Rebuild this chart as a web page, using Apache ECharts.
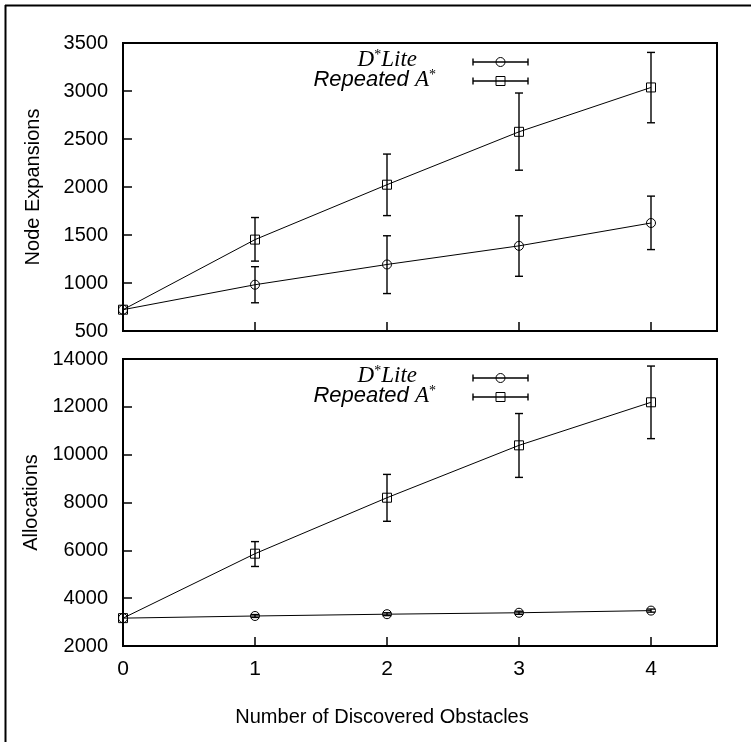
<!DOCTYPE html>
<html>
<head>
<meta charset="utf-8">
<script src="https://cdn.jsdelivr.net/npm/echarts@6/dist/echarts.min.js"></script>
<style>
  html, body { margin: 0; padding: 0; background: #fff; }
  #main { width: 751px; height: 742px; }
</style>
</head>
<body>
<div id="main"></div>
<script>
// x values (number of discovered obstacles)
var obstacles = [0, 1, 2, 3, 4];
var xTicks = [0, 1, 2, 3, 4];

// node expansions
var dliteNodes     = [722, 982, 1193, 1387, 1625];
var dliteNodesLow  = [722, 794, 890, 1070, 1348];
var dliteNodesHigh = [722, 1170, 1492, 1700, 1905];
var astarNodes     = [722, 1452, 2024, 2575, 3037];
var astarNodesLow  = [722, 1228, 1702, 2175, 2669];
var astarNodesHigh = [722, 1682, 2343, 2979, 3402];

// allocations
var dliteAlloc     = [3165, 3255, 3330, 3390, 3480];
var dliteAllocLow  = [3165, 3195, 3270, 3325, 3415];
var dliteAllocHigh = [3165, 3315, 3390, 3455, 3545];
var astarAlloc     = [3165, 5860, 8200, 10390, 12190];
var astarAllocLow  = [3165, 5325, 7215, 9050, 10670];
var astarAllocHigh = [3165, 6365, 9175, 11720, 13705];

var FONT = '"Liberation Sans", Arial, sans-serif';

function pts(vals) {
    var out = [];
    for (var i = 0; i < obstacles.length; i++) out.push([obstacles[i], vals[i]]);
    return out;
}
function errData(mid, lo, hi) {
    var out = [];
    for (var i = 0; i < obstacles.length; i++) out.push([obstacles[i], lo[i], hi[i], mid[i]]);
    return out;
}

function markerShape(kind, cx, cy) {
    if (kind == 'circle') {
        return { type: 'circle', shape: { cx: cx, cy: cy, r: 4.5 },
                 style: { fill: 'none', stroke: '#000', lineWidth: 1 } };
    }
    return { type: 'rect', shape: { x: cx - 4.5, y: cy - 4.5, width: 9, height: 9 },
             style: { fill: 'none', stroke: '#000', lineWidth: 1 } };
}

function errRender(kind) {
    return function (params, api) {
        var x = api.value(0), lo = api.value(1), hi = api.value(2), mid = api.value(3);
        var pLo = api.coord([x, lo]);
        var pHi = api.coord([x, hi]);
        var pM = api.coord([x, mid]);
        var st = { stroke: '#000', lineWidth: 1.4 };
        var children = [];
        if (hi > lo) {
            children.push({ type: 'line', shape: { x1: pLo[0], y1: pLo[1], x2: pHi[0], y2: pHi[1] }, style: st });
            children.push({ type: 'line', shape: { x1: pLo[0] - 4, y1: pLo[1], x2: pLo[0] + 4, y2: pLo[1] }, style: st });
            children.push({ type: 'line', shape: { x1: pHi[0] - 4, y1: pHi[1], x2: pHi[0] + 4, y2: pHi[1] }, style: st });
        }
        children.push(markerShape(kind, pM[0], pM[1]));
        return { type: 'group', children: children };
    };
}

function lineSeries(vals, idx) {
    return {
        type: 'line', xAxisIndex: idx, yAxisIndex: idx, data: pts(vals),
        showSymbol: false, lineStyle: { color: '#000', width: 1 }, z: 2
    };
}
function errSeries(mid, lo, hi, kind, idx) {
    return {
        type: 'custom', xAxisIndex: idx, yAxisIndex: idx,
        data: errData(mid, lo, hi), renderItem: errRender(kind),
        encode: { x: 0, y: [1, 2, 3] }, z: 3
    };
}

// legend sample (line with end caps and a marker)
function legendRow(x1, x2, y, kind) {
    var st = { stroke: '#000', lineWidth: 1.4 };
    var m = markerShape(kind, (x1 + x2) / 2, y);
    return [
        { type: 'line', shape: { x1: x1, y1: y, x2: x2, y2: y }, style: st },
        { type: 'line', shape: { x1: x1, y1: y - 3.5, x2: x1, y2: y + 3.5 }, style: st },
        { type: 'line', shape: { x1: x2, y1: y - 3.5, x2: x2, y2: y + 3.5 }, style: st },
        m
    ];
}
var richStyles = {
    m: { fontFamily: '"Liberation Serif", serif', fontStyle: 'italic', fontSize: 23, fill: '#000' },
    s: { fontFamily: '"Liberation Serif", serif', fontSize: 14, fill: '#000', padding: [0, 0, 9, 0] },
    r: { fontFamily: FONT, fontStyle: 'italic', fontSize: 22, fill: '#000' }
};
function legendBlock(dy) {
    var els = [];
    els.push({ type: 'text', x: 417, y: 60 + dy,
        style: { text: '{m|D}{s|*}{m|Lite}', rich: richStyles, align: 'right', verticalAlign: 'middle' } });
    els.push({ type: 'text', x: 436, y: 80 + dy,
        style: { text: '{r|Repeated }{m|A}{s|*}', rich: richStyles, align: 'right', verticalAlign: 'middle' } });
    els = els.concat(legendRow(473, 528, 62 + dy, 'circle'));
    els = els.concat(legendRow(473, 528, 81 + dy, 'rect'));
    return els;
}

var myChart = echarts.init(document.getElementById('main'), null, { renderer: 'canvas' });

var axisCommon = {
    axisLine: { show: false },
    axisTick: { show: true, inside: true, length: 9, lineStyle: { color: '#000', width: 1.5 } },
    splitLine: { show: false }
};
function plainNum(v) { return String(v); }

var option = {
    animation: false,
    backgroundColor: '#fff',
    grid: [
        { left: 123, top: 43, width: 594, height: 288, show: true, borderColor: '#000', borderWidth: 2 },
        { left: 123, top: 359, width: 594, height: 287, show: true, borderColor: '#000', borderWidth: 2 }
    ],
    xAxis: [
        Object.assign({ type: 'value', gridIndex: 0, min: 0, max: 4.5, interval: 1,
            axisLabel: { show: false } }, axisCommon),
        Object.assign({ type: 'value', gridIndex: 1, min: 0, max: 4.5, interval: 1,
            axisLabel: { show: true, fontFamily: FONT, fontSize: 21, color: '#000', margin: 13,
                formatter: function (v) { return xTicks.indexOf(v) >= 0 ? String(v) : ''; } } }, axisCommon)
    ],
    yAxis: [
        Object.assign({ type: 'value', gridIndex: 0, min: 500, max: 3500, interval: 500,
            name: 'Node Expansions', nameLocation: 'middle', nameGap: 80,
            nameTextStyle: { fontFamily: FONT, fontSize: 20, color: '#000' },
            axisLabel: { fontFamily: FONT, fontSize: 20, color: '#000', margin: 15, formatter: plainNum } }, axisCommon),
        Object.assign({ type: 'value', gridIndex: 1, min: 2000, max: 14000, interval: 2000,
            name: 'Allocations', nameLocation: 'middle', nameGap: 80,
            nameTextStyle: { fontFamily: FONT, fontSize: 20, color: '#000' },
            axisLabel: { fontFamily: FONT, fontSize: 20, color: '#000', margin: 15, formatter: plainNum } }, axisCommon)
    ],
    graphic: [
        { type: 'line', shape: { x1: 5.5, y1: 5, x2: 5.5, y2: 742 }, style: { stroke: '#000', lineWidth: 2 } },
        { type: 'line', shape: { x1: 5, y1: 5.5, x2: 751, y2: 5.5 }, style: { stroke: '#000', lineWidth: 2 } },
        { type: 'text', x: 382, y: 717,
          style: { text: 'Number of Discovered Obstacles', font: '20px ' + FONT, fill: '#000',
                   align: 'center', verticalAlign: 'middle' } }
    ].concat(legendBlock(0)).concat(legendBlock(316)),
    series: [
        lineSeries(dliteNodes, 0),
        lineSeries(astarNodes, 0),
        errSeries(dliteNodes, dliteNodesLow, dliteNodesHigh, 'circle', 0),
        errSeries(astarNodes, astarNodesLow, astarNodesHigh, 'rect', 0),
        lineSeries(dliteAlloc, 1),
        lineSeries(astarAlloc, 1),
        errSeries(dliteAlloc, dliteAllocLow, dliteAllocHigh, 'circle', 1),
        errSeries(astarAlloc, astarAllocLow, astarAllocHigh, 'rect', 1)
    ]
};
myChart.setOption(option);
</script>
</body>
</html>
